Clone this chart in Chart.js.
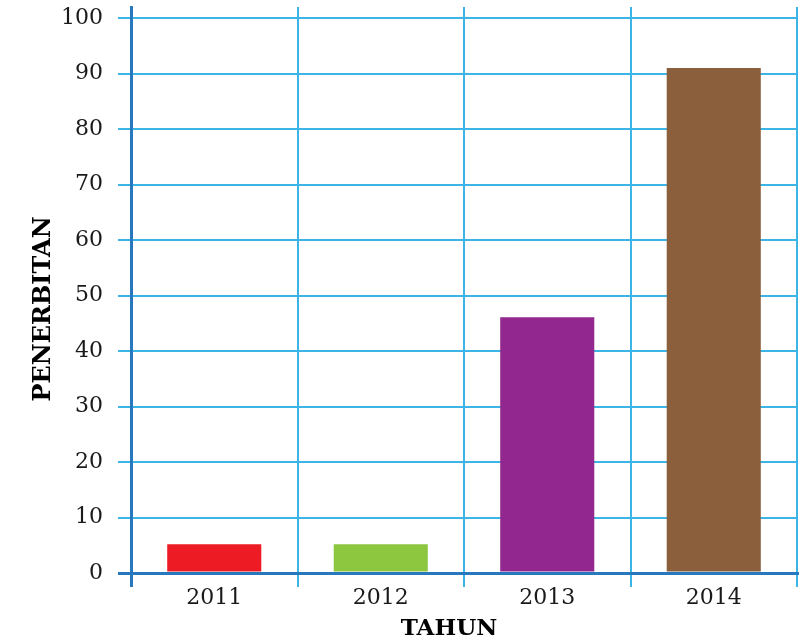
<!DOCTYPE html>
<html>
<head>
<meta charset="utf-8">
<script src="https://cdn.jsdelivr.net/npm/chart.js@4/dist/chart.umd.min.js"></script>
<style>
  html, body { margin: 0; padding: 0; background: #ffffff; }
  #wrap { width: 799px; height: 644px; }
</style>
</head>
<body>
<div id="wrap"><canvas id="c" width="799" height="644"></canvas></div>
<script>
const categories = ["2011", "2012", "2013", "2014"];
const values = [5.2, 5.2, 46.1, 91];
const barColors = ["#ED1C24", "#8DC63F", "#92278F", "#8B5E3C"];
const xTitle = "TAHUN";
const yTitle = "PENERBITAN";

const GRID = "#3DB4E6";
const AXIS = "#2878BE";
const TICKFONT = { family: "DejaVu Serif", size: 22 };

const titlePlugin = {
  id: "axisTitles",
  afterDraw(chart) {
    const ctx = chart.ctx;
    ctx.save();
    ctx.fillStyle = "#000";
    ctx.textAlign = "center";
    ctx.textBaseline = "middle";
    ctx.font = "bold 23px 'DejaVu Serif'";
    ctx.fillText(xTitle, 449, 629);
    ctx.font = "bold 24px 'DejaVu Serif'";
    ctx.translate(44, 309);
    ctx.rotate(-Math.PI / 2);
    ctx.fillText(yTitle, 0, 0);
    ctx.restore();
  }
};

new Chart(document.getElementById("c"), {
  type: "bar",
  data: {
    labels: categories,
    datasets: [{
      data: values,
      backgroundColor: barColors,
      borderWidth: 0,
      categoryPercentage: 1,
      barPercentage: 0.565
    }]
  },
  options: {
    responsive: false,
    animation: false,
    devicePixelRatio: 1,
    layout: { padding: { left: 0, right: 2, top: 7, bottom: 0 } },
    plugins: { legend: { display: false }, tooltip: { enabled: false } },
    scales: {
      x: {
        offset: true,
        grid: {
          offset: true,
          color: (c) => c.index === 0 ? AXIS : GRID,
          lineWidth: (c) => c.index === 0 ? 3 : 2,
          tickLength: 14,
          drawTicks: true
        },
        border: { display: true, color: AXIS, width: 3 },
        ticks: { font: TICKFONT, color: "#1a1a1a", padding: -2 },
        afterFit(scale) {
          scale.height = 71;
          scale.paddingLeft = 0; scale.paddingRight = 0;
        }
      },
      y: {
        min: 0,
        max: 102,
        grid: {
          color: (c) => c.index === 0 ? AXIS : GRID,
          lineWidth: (c) => c.index === 0 ? 3 : 2,
          tickLength: 13
        },
        border: { display: true, color: AXIS, width: 3 },
        ticks: { stepSize: 10, includeBounds: false, font: TICKFONT, color: "#1a1a1a", padding: 15 },
        afterFit(scale) {
          scale.width = 131;
          scale.paddingTop = 0; scale.paddingBottom = 0;
        }
      }
    }
  },
  plugins: [titlePlugin]
});
</script>
</body>
</html>
